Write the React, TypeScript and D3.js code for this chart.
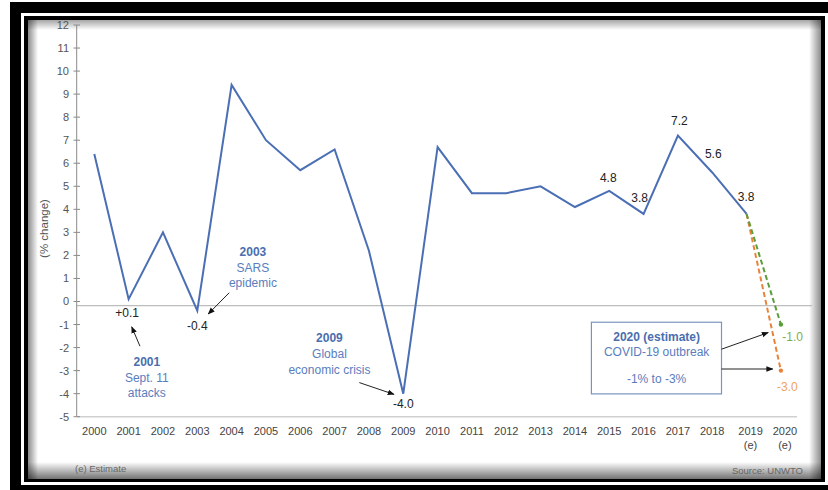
import React from "react";
import * as d3 from "d3";

const years = [2000, 2001, 2002, 2003, 2004, 2005, 2006, 2007, 2008, 2009, 2010, 2011, 2012, 2013, 2014, 2015, 2016, 2017, 2018, 2019];
const growth = [6.4, 0.1, 3.0, -0.4, 9.4, 7.0, 5.7, 6.6, 2.2, -4.0, 6.7, 4.7, 4.7, 5.0, 4.1, 4.8, 3.8, 7.2, 5.6, 3.8];
const xTickYears = [2000, 2001, 2002, 2003, 2004, 2005, 2006, 2007, 2008, 2009, 2010, 2011, 2012, 2013, 2014, 2015, 2016, 2017, 2018, 2019, 2020];
const xTickLabels = ["2000", "2001", "2002", "2003", "2004", "2005", "2006", "2007", "2008", "2009", "2010", "2011", "2012", "2013", "2014", "2015", "2016", "2017", "2018", "2019|(e)", "2020|(e)"];
const yTicks = [12, 11, 10, 9, 8, 7, 6, 5, 4, 3, 2, 1, 0, -1, -2, -3, -4, -5];
const highYears = [2019, 2020];
const highValues = [3.8, -1.0];
const lowYears = [2019, 2020];
const lowValues = [3.8, -3.0];
const pointLabels = [
  { year: 2001, text: "+0.1" },
  { year: 2003, text: "-0.4" },
  { year: 2009, text: "-4.0" },
  { year: 2015, text: "4.8" },
  { year: 2016, text: "3.8" },
  { year: 2017, text: "7.2" },
  { year: 2018, text: "5.6" },
  { year: 2019, text: "3.8" },
];

const FONT = "'Liberation Sans', Arial, sans-serif";
const BLUE = "#4b6fb5";
const TXTBLUE = "#5a7dbd";

export default function App() {
  const x = d3.scaleLinear().domain([2000, 2020]).range([94.3, 780.9]);
  const y = d3.scaleLinear().domain([-5, 12]).range([416.7, 25]);
  const line = d3.line<number>().x((_, i) => x(years[i])).y((d) => y(d));
  const lineHigh = d3.line<number>().x((_, i) => x(highYears[i])).y((d) => y(d));
  const lineLow = d3.line<number>().x((_, i) => x(lowYears[i])).y((d) => y(d));

  // label offsets (px) relative to data points
  const offs: Record<number, [number, number]> = {
    2001: [-1.5, 14], 2003: [0, 15.5], 2009: [0, 10], 2015: [-1, -13],
    2016: [-4, -16], 2017: [1.5, -15], 2018: [1, -18.5], 2019: [-0.5, -17],
  };

  const arrow = (x1: number, y1: number, x2: number, y2: number, key: string) => (
    <line key={key} x1={x(x1)} y1={y(y1)} x2={x(x2)} y2={y(y2)} stroke="#222" strokeWidth={1} markerEnd="url(#ah)" />
  );

  const annot = (cx: number, cy: number, lines: string[], dy: number, key: string, boldFirst = true) => (
    <g key={key} fontFamily={FONT} fontSize={12} textAnchor="middle">
      {lines.map((t, i) => (
        <text key={i} x={x(cx)} y={y(cy) + i * dy} dominantBaseline="central"
          fill={i === 0 && boldFirst ? "#4a6eae" : TXTBLUE} fontWeight={i === 0 && boldFirst ? "bold" : "normal"}>{t}</text>
      ))}
    </g>
  );

  return (
    <svg width={828} height={490} style={{ position: "absolute", left: 0, top: 0 }}>
      <defs>
        <marker id="ah" viewBox="0 0 10 10" refX="9" refY="5" markerWidth="7" markerHeight="7" orient="auto">
          <path d="M0,1 L10,5 L0,9 z" fill="#111" />
        </marker>
        <linearGradient id="gl" x1="0" x2="1" y1="0" y2="0">
          <stop offset="0" stopColor="#000" stopOpacity="0.45" />
          <stop offset="1" stopColor="#000" stopOpacity="0" />
        </linearGradient>
        <linearGradient id="gr" x1="1" x2="0" y1="0" y2="0">
          <stop offset="0" stopColor="#000" stopOpacity="0.45" />
          <stop offset="1" stopColor="#000" stopOpacity="0" />
        </linearGradient>
        <linearGradient id="gt" x1="0" x2="0" y1="0" y2="1">
          <stop offset="0" stopColor="#000" stopOpacity="0.35" />
          <stop offset="1" stopColor="#000" stopOpacity="0" />
        </linearGradient>
        <linearGradient id="gb" x1="0" x2="0" y1="1" y2="0">
          <stop offset="0" stopColor="#000" stopOpacity="0.55" />
          <stop offset="1" stopColor="#000" stopOpacity="0" />
        </linearGradient>
      </defs>
      {/* frame */}
      <rect x={0} y={0} width={828} height={490} fill="#fff" />
      <rect x={10} y={2} width={830} height={500} fill="#000" />
      <rect x={21} y={13} width={820} height={472} fill="#fff" />
      <rect x={24} y={16} width={801} height={466} fill="#000" />
      <rect x={28} y={20} width={793} height={459} fill="#fff" />
      <rect x={28} y={20} width={10} height={459} fill="url(#gl)" />
      <rect x={28} y={20} width={793} height={10} fill="url(#gt)" />
      <rect x={809} y={20} width={12} height={459} fill="url(#gr)" />
      <rect x={28} y={462} width={793} height={17} fill="url(#gb)" />

      {/* axes */}
      <line x1={77} x2={812} y1={y(-0.18)} y2={y(-0.18)} stroke="#bdbdbd" strokeWidth={1.2} />
      <line x1={77} x2={797} y1={y(-5)} y2={y(-5)} stroke="#d0d0d0" strokeWidth={1.5} />
      <line x1={76.7} x2={76.7} y1={y(12)} y2={y(-5)} stroke="#8a8a8a" strokeWidth={1} />
      {yTicks.map((t) => (
        <g key={t}>
          <line x1={73.5} x2={80} y1={y(t)} y2={y(t)} stroke="#8a8a8a" strokeWidth={1} />
          <text x={69} y={y(t)} textAnchor="end" dominantBaseline="central" fontFamily={FONT} fontSize={11} fill="#555">{t}</text>
        </g>
      ))}
      <text transform={`translate(43.5,228.5) rotate(-90)`} textAnchor="middle" dominantBaseline="central" fontFamily={FONT} fontSize={11.5} fill="#555">(% change)</text>
      {xTickYears.map((yr, i) => {
        const parts = xTickLabels[i].split("|");
        const dx = parts.length > 1 ? 4 : 0;
        return (
          <g key={yr}>
            {parts.map((p, j) => (
              <text key={j} x={x(yr) + dx} y={431 + j * 14} textAnchor="middle" dominantBaseline="central" fontFamily={FONT} fontSize={11} fill="#444">{p}</text>
            ))}
          </g>
        );
      })}
      <text x={75} y={468} fontFamily={FONT} fontSize={9.5} fill="#666" dominantBaseline="central">(e) Estimate</text>
      <text x={803} y={470} fontFamily={FONT} fontSize={9.5} fill="#666" textAnchor="end" dominantBaseline="central">Source: UNWTO</text>

      {/* projections */}
      <path d={lineLow(lowValues) || ""} fill="none" stroke="#e8833a" strokeWidth={2} strokeDasharray="5,3" />
      <path d={lineHigh(highValues) || ""} fill="none" stroke="#5a9e3a" strokeWidth={2} strokeDasharray="5,3" />
      <circle cx={x(2020)} cy={y(-1.0)} r={2.2} fill="#5a9e3a" />
      <circle cx={x(2020)} cy={y(-3.0)} r={2.2} fill="#e8833a" />

      {/* main line */}
      <path d={line(growth) || ""} fill="none" stroke={BLUE} strokeWidth={2} strokeLinejoin="miter" />

      {/* value labels */}
      {pointLabels.map((p) => {
        const i = years.indexOf(p.year);
        const o = offs[p.year];
        return (
          <text key={p.year} x={x(p.year) + o[0]} y={y(growth[i]) + o[1]} textAnchor="middle" dominantBaseline="central" fontFamily={FONT} fontSize={12} fill="#222">{p.text}</text>
        );
      })}
      <text x={x(2020.34)} y={y(-1.53)} textAnchor="middle" dominantBaseline="central" fontFamily={FONT} fontSize={12} fill="#7fae4a">-1.0</text>
      <text x={x(2020.19)} y={y(-3.7)} textAnchor="middle" dominantBaseline="central" fontFamily={FONT} fontSize={12} fill="#f0a35a">-3.0</text>

      {/* annotations */}
      {annot(2001.53, -2.63, ["2001", "Sept. 11", "attacks"], 15.6, "a1")}
      {arrow(2001.33, -1.94, 2001.09, -1.1, "ar1")}
      {annot(2004.62, 2.16, ["2003", "SARS", "epidemic"], 15.8, "a2")}
      {arrow(2003.93, 0.38, 2003.32, -0.54, "ar2")}
      {annot(2006.85, -1.57, ["2009", "Global", "economic crisis"], 16.2, "a3")}
      {arrow(2007.72, -3.52, 2008.73, -4.03, "ar3")}

      <rect x={x(2014.48)} y={y(-0.9)} width={x(2018.27) - x(2014.48)} height={y(-4.01) - y(-0.9)} fill="#fff" stroke="#7b93c0" strokeWidth={1.2} />
      <g fontFamily={FONT} fontSize={12} textAnchor="middle">
        <text x={x(2016.38)} y={y(-1.53)} dominantBaseline="central" fill="#4a6eae" fontWeight="bold">2020 (estimate)</text>
        <text x={x(2016.38)} y={y(-2.18)} dominantBaseline="central" fill={TXTBLUE}>COVID-19 outbreak</text>
        <text x={x(2016.38)} y={y(-3.38)} dominantBaseline="central" fill={TXTBLUE}>-1% to -3%</text>
      </g>
      {arrow(2018.27, -2.07, 2019.63, -1.35, "ar4")}
      {arrow(2018.27, -2.93, 2019.76, -2.93, "ar5")}
    </svg>
  );
}
